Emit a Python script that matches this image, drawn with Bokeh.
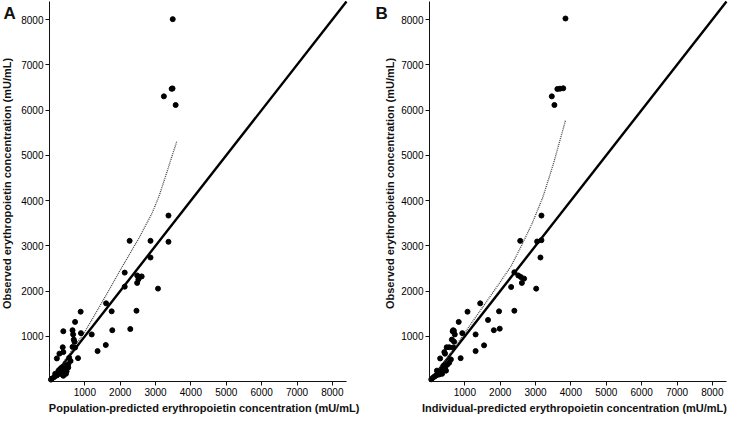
import math
from bokeh.plotting import figure
from bokeh.models import FixedTicker, Range1d
from bokeh.core.properties import value
from bokeh.layouts import row
from bokeh.embed import file_html
from bokeh.resources import INLINE

ticks = [1000, 2000, 3000, 4000, 5000, 6000, 7000, 8000]
axis_max = 8400
y_title = "Observed erythropoietin concentration (mU/mL)"
a_xtitle = "Population-predicted erythropoietin concentration (mU/mL)"
b_xtitle = "Individual-predicted erythropoietin concentration (mU/mL)"

# Panel A: population-predicted vs observed
a_pred = [3485, 3455, 3480, 3235, 3568,
          3365, 3365, 2266, 2857, 2857, 2127, 2127, 2479, 2543, 2607, 2479, 2515, 3069,
          1601, 1758, 2460, 1776, 2285, 1592, 1360, 1194, 881, 890, 723, 651, 668, 687,
          706, 651, 723, 807, 391, 374, 391, 281, 208, 557, 596, 530,
          438, 484, 391, 346, 299, 253, 208, 133, 69, 42, 530, 484, 374, 465, 299, 161, 391]
a_obs = [8010, 6470, 6478, 6303, 6112,
         3668, 3088, 3109, 3109, 2741, 2407, 2096, 2344, 2308, 2323, 2180, 2259, 2053,
         1728, 1551, 1564, 1133, 1160, 807, 672, 1041, 1543, 1069, 1317, 1133, 1041, 926,
         878, 765, 750, 516, 1111, 757, 650, 616, 510, 523, 453, 382,
         276, 226, 205, 310, 170, 240, 134, 98, 64, 42, 310, 346, 155, 170, 276, 170, 127]
a_trend_x = [0, 500, 1000, 1500, 2000, 2500, 2700, 2900, 3100, 3300, 3596]
a_trend_y = [0, 540, 1100, 1770, 2460, 3130, 3420, 3720, 4100, 4580, 5300]

# Panel B: individual-predicted vs observed
b_pred = [3846, 3459, 3533, 3616, 3690, 3782,
          3166, 3044, 3166, 2566, 3138, 2400, 2309, 2511, 2586, 2677, 2613, 3017,
          1434, 1967, 2400, 1655, 1820, 1986, 1544, 1304, 1304, 1075, 928, 826, 669, 715,
          633, 696, 486, 558, 669, 881, 655, 690, 420, 439, 301, 605, 558, 514,
          448, 375, 329, 282, 356, 237, 191, 145, 99, 52, 393, 274, 467, 210]
b_obs = [8024, 6303, 6112, 6466, 6473, 6481,
         3668, 3095, 3124, 3109, 2741, 2414, 2089, 2344, 2308, 2274, 2180, 2053,
         1728, 1551, 1564, 1360, 1133, 1168, 799, 672, 1041, 1543, 1069, 1317, 1133, 1041,
         926, 878, 757, 757, 750, 516, 1110, 1120, 650, 616, 510, 489, 417, 382,
         310, 276, 226, 205, 170, 170, 134, 113, 85, 49, 346, 155, 240, 240]
b_trend_x = [0, 500, 1000, 1500, 2000, 2300, 2600, 2900, 3200, 3500, 3845]
b_trend_y = [0, 520, 1080, 1640, 2200, 2540, 3000, 3490, 4060, 4800, 5765]

FONT = "Liberation Sans"
HEIGHT = 414
AXIS_W = 297.0      # px for 0..axis_max horizontally
AXIS_H = 380.0      # px for 0..axis_max vertically
TOP_PAD = 1.0       # px above axis_max


def panel(pred, obs, tx, ty, xtitle, letter, width, zero_px,
          xtitle_px, ytitle_px, ytitle_py, letter_px):
    kx = AXIS_W / axis_max
    ky = AXIS_H / axis_max
    x0 = -zero_px / kx
    x1 = x0 + width / kx
    y1 = axis_max + TOP_PAD / ky
    y0 = y1 - HEIGHT / ky
    dx = lambda px: (px - zero_px) / kx
    dy = lambda py: y1 - py / ky

    p = figure(width=width, height=HEIGHT, x_range=Range1d(x0, x1), y_range=Range1d(y0, y1),
               output_backend="svg", toolbar_location=None,
               min_border_left=0, min_border_right=0, min_border_top=0, min_border_bottom=0)
    p.outline_line_color = None
    p.xgrid.visible = False
    p.ygrid.visible = False
    p.background_fill_color = "white"
    p.border_fill_color = "white"
    p.line([0, axis_max], [0, axis_max], line_width=2.4, color="black")
    p.line(tx, ty, line_width=1.3, color="#444444", line_dash="1 1")
    p.scatter(pred, obs, size=5, color="black")

    # panel letter and axis titles
    p.text(x=[dx(letter_px)], y=[dy(3)], text=[letter], text_font=value(FONT), text_font_style="bold",
           text_font_size="17px", text_baseline="top", text_align="left", text_color="#111111")
    p.text(x=[dx(xtitle_px)], y=[dy(407)], text=[xtitle], text_font=value(FONT), text_font_style="bold",
           text_font_size="11px", text_baseline="middle", text_align="center", text_color="#111111")
    p.text(x=[dx(ytitle_px)], y=[dy(ytitle_py)], text=[y_title], text_font=value(FONT),
           text_font_style="bold", angle=math.pi / 2,
           text_font_size="11px", text_baseline="middle", text_align="center", text_color="#111111")

    p.xaxis.fixed_location = 0
    p.yaxis.fixed_location = 0
    p.xaxis.bounds = (0, axis_max)
    p.yaxis.bounds = (0, axis_max)
    for ax in (p.xaxis[0], p.yaxis[0]):
        ax.ticker = FixedTicker(ticks=ticks)
        ax.minor_tick_line_color = None
        ax.major_tick_out = 4
        ax.major_tick_in = 0
        ax.axis_line_color = "#111111"
        ax.major_tick_line_color = "#111111"
        ax.major_label_text_font = FONT
        ax.major_label_text_font_size = "10px"
        ax.major_label_text_color = "#000000"
        ax.major_label_standoff = 2
    return p


pa = panel(a_pred, a_obs, a_trend_x, a_trend_y, a_xtitle, "A", 366, 49,
           203.6, 6.0, 183, 3.0)
pb = panel(b_pred, b_obs, b_trend_x, b_trend_y, b_xtitle, "B", 367, 63,
           208.0, 23.5, 183, 9.0)

layout = row(pa, pb)
open("out.html", "w").write(file_html(layout, INLINE))
